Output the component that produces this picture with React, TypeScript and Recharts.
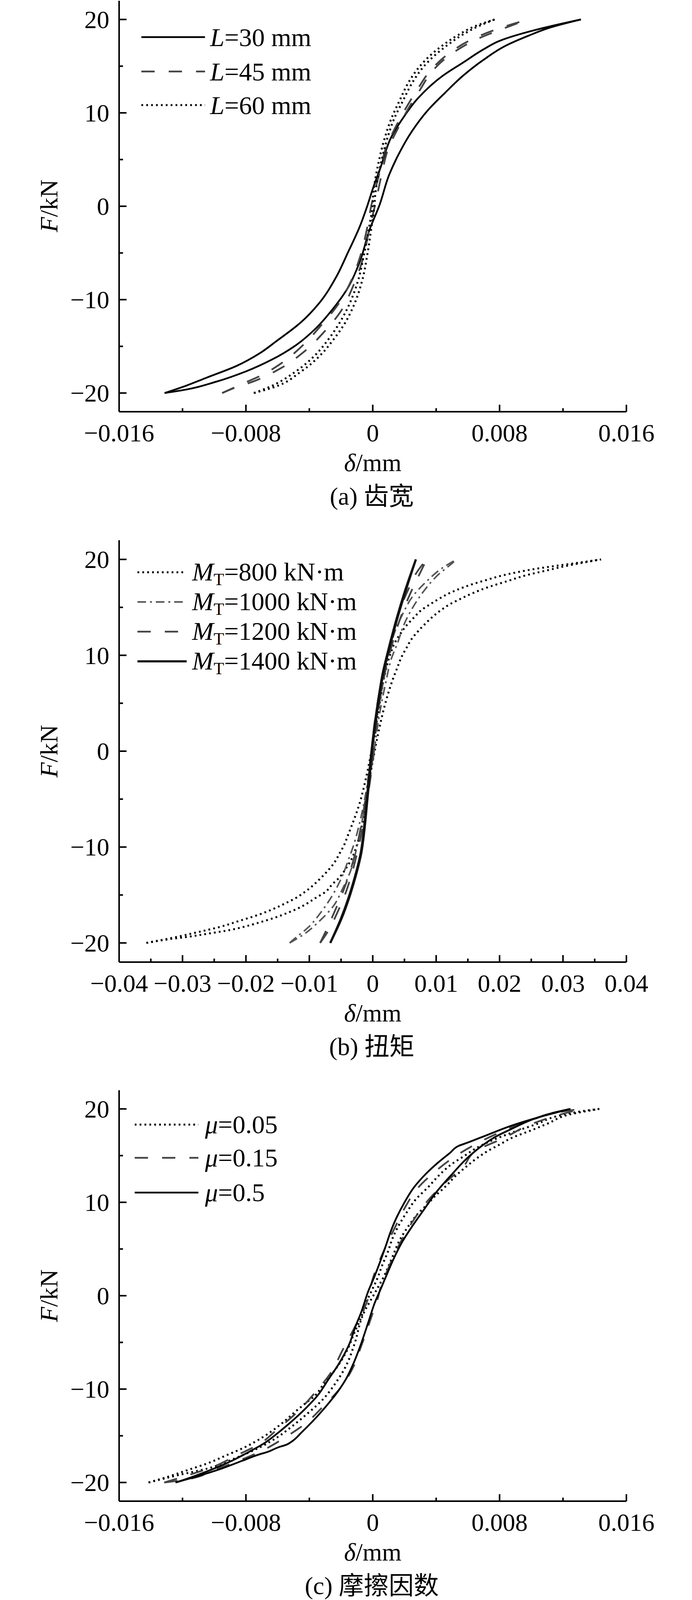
import React from 'react';
import { LineChart, Line, XAxis, YAxis } from 'recharts';

type Pt = [number, number]; // [delta (mm), F (kN)]

// ---------- (a) tooth width L ----------
const A_L30_LEFT: Pt[] = [[-0.01313,-20],[-0.01175,-19.2],[-0.01049,-18.36],[-0.00861,-17.11],[-0.0071,-15.71],[-0.00609,-14.46],[-0.00458,-12.5],[-0.00333,-10.27],[-0.00232,-7.62],[-0.00157,-4.97],[-0.00082,-2.18],[-0.00037,-0.09],[0.00003,2],[0.00048,4.09],[0.00118,7.44],[0.00189,9.4],[0.00288,11.62],[0.00444,14.0],[0.0057,15.39],[0.00698,16.79],[0.00797,17.69],[0.01024,18.87],[0.0118,19.5],[0.01313,20]];
const A_L30_RIGHT: Pt[] = [[-0.01313,-20],[-0.01175,-19.62],[-0.00986,-18.78],[-0.00798,-17.67],[-0.00635,-16.41],[-0.00484,-14.87],[-0.00358,-13.06],[-0.00257,-11.11],[-0.00157,-8.74],[-0.00082,-5.95],[-0.00019,-2.46],[0.00042,0.1],[0.00104,3.39],[0.00161,5.49],[0.00246,8.0],[0.00345,10.23],[0.00458,12.18],[0.00571,14.0],[0.00698,15.67],[0.0084,17.2],[0.00981,18.25],[0.01122,19.15],[0.01313,20]];
const A_L45_LEFT: Pt[] = [[-0.0095,-20],[-0.00848,-19.2],[-0.00685,-17.95],[-0.00572,-16.76],[-0.0044,-14.87],[-0.0032,-12.64],[-0.0022,-10.55],[-0.00138,-8.04],[-0.00082,-5.53],[-0.00037,-2.46],[-0.0001,0],[0.0004,3.39],[0.00082,6.18],[0.00138,8.28],[0.00195,10.09],[0.0028,12.46],[0.00365,14.55],[0.0048,16.36],[0.0062,17.83],[0.0079,19.0],[0.0098,20]];
const A_L45_RIGHT: Pt[] = [[-0.0095,-20],[-0.00898,-19.62],[-0.00735,-18.64],[-0.00584,-17.38],[-0.00433,-15.57],[-0.00308,-13.48],[-0.00207,-11.39],[-0.00125,-8.6],[-0.00063,-5.67],[-0.00025,-2.74],[0.00013,0],[0.00056,3.39],[0.00098,6.18],[0.00157,8.28],[0.00212,10.09],[0.00298,12.46],[0.0038,14.55],[0.005,16.36],[0.0065,17.83],[0.0082,19.0],[0.0098,20]];
const A_L60_LEFT: Pt[] = [[-0.0075,-20],[-0.0066,-19.41],[-0.00484,-17.67],[-0.00358,-15.85],[-0.00283,-14.32],[-0.0022,-12.78],[-0.00157,-10.83],[-0.00094,-8.04],[-0.00056,-5.25],[-0.00025,-2.46],[-0.00002,0],[0.00003,1.3],[0.00038,4.79],[0.00073,7.16],[0.00114,9.25],[0.0017,11.34],[0.00227,13.3],[0.00296,14.97],[0.00366,16.2],[0.0045,17.34],[0.00535,18.3],[0.00648,19.3],[0.00769,20]];
const A_L60_RIGHT: Pt[] = [[-0.0075,-20],[-0.0063,-19.41],[-0.0045,-17.67],[-0.00325,-15.85],[-0.0025,-14.32],[-0.00185,-12.78],[-0.00125,-10.83],[-0.00068,-8.04],[-0.00035,-5.25],[-0.0001,-2.46],[0.0001,0],[0.00016,1.3],[0.00054,4.79],[0.0009,7.16],[0.00132,9.25],[0.00192,11.34],[0.00252,13.3],[0.00322,14.97],[0.00394,16.2],[0.00478,17.34],[0.0056,18.3],[0.0067,19.3],[0.00769,20]];

// ---------- (b) torque M_T ----------
const B_800_LEFT: Pt[] = [[-0.0357,-20],[-0.0304,-19.3],[-0.0273,-18.83],[-0.0241,-18.33],[-0.0211,-17.71],[-0.018,-17.06],[-0.0158,-16.49],[-0.0136,-15.81],[-0.0122,-15.34],[-0.0108,-14.73],[-0.0095,-14.05],[-0.0083,-13.3],[-0.0072,-12.55],[-0.0061,-11.67],[-0.0053,-10.75],[-0.0045,-9.77],[-0.0039,-8.75],[-0.0033,-7.74],[-0.0021,-5.5],[-0.001,-2.6],[-0.0002,0],[0.0005,2.5],[0.0011,5],[0.0019,8],[0.0028,10.18],[0.0034,11.2],[0.0043,12.19],[0.0054,13.17],[0.0065,13.94],[0.0076,14.68],[0.0091,15.34],[0.0105,15.91],[0.0119,16.42],[0.0133,16.83],[0.0157,17.41],[0.0179,17.85],[0.0203,18.3],[0.0226,18.64],[0.0258,19.03],[0.029,19.34],[0.032,19.61],[0.036,20]];
const B_800_RIGHT: Pt[] = [[-0.0357,-20],[-0.032,-19.6],[-0.029,-19.35],[-0.0257,-19.0],[-0.0225,-18.65],[-0.0202,-18.3],[-0.0178,-17.85],[-0.0156,-17.4],[-0.0132,-16.8],[-0.0118,-16.4],[-0.0104,-15.9],[-0.009,-15.3],[-0.0075,-14.7],[-0.0064,-13.9],[-0.0053,-13.2],[-0.0042,-12.2],[-0.0033,-11.2],[-0.0027,-10.2],[-0.0018,-8],[-0.001,-5],[-0.0004,-2.5],[0.0003,0],[0.0011,2.6],[0.0022,5.5],[0.0033,7.74],[0.0039,8.75],[0.0045,9.77],[0.0053,10.75],[0.0061,11.67],[0.0072,12.55],[0.0083,13.3],[0.0095,14.05],[0.0108,14.73],[0.0122,15.34],[0.0136,15.81],[0.0158,16.49],[0.018,17.06],[0.0211,17.71],[0.0241,18.33],[0.0273,18.83],[0.0304,19.3],[0.036,20]];
const B_1000_LEFT: Pt[] = [[-0.0131,-20],[-0.0126,-19.7],[-0.0101,-18.33],[-0.0081,-16.74],[-0.0063,-14.97],[-0.0049,-13.17],[-0.0038,-11.26],[-0.003,-9.77],[-0.0019,-7],[-0.001,-4],[-0.0002,0],[0.0008,4],[0.0016,7],[0.0025,10],[0.0035,12.49],[0.0048,14.41],[0.0063,16.15],[0.0084,17.65],[0.0109,19.07],[0.0132,20]];
const B_1000_RIGHT: Pt[] = [[-0.0131,-20],[-0.0108,-19.07],[-0.0083,-17.65],[-0.0062,-16.15],[-0.0048,-14.41],[-0.0035,-12.49],[-0.0025,-10],[-0.0016,-7],[-0.0008,-4],[0.0002,0],[0.0011,4],[0.002,7],[0.003,9.77],[0.0039,11.26],[0.0049,13.17],[0.0063,14.97],[0.0081,16.74],[0.0102,18.33],[0.0127,19.7],[0.0132,20]];
const B_1200_LEFT: Pt[] = [[-0.0083,-20],[-0.0072,-18.5],[-0.0062,-17],[-0.0049,-15],[-0.0038,-13],[-0.0029,-11],[-0.0022,-9],[-0.0014,-6],[-0.0007,-3],[-0.0002,0],[0.0003,3],[0.001,6],[0.0019,9],[0.0026,11],[0.0034,13],[0.0044,15],[0.0057,17],[0.0068,18.5],[0.0085,20]];
const B_1200_RIGHT: Pt[] = [[-0.0083,-20],[-0.0068,-18.5],[-0.0057,-17],[-0.0044,-15],[-0.0034,-13],[-0.0026,-11],[-0.0019,-9],[-0.0011,-6],[-0.0004,-3],[0.0002,0],[0.0006,3],[0.0013,6],[0.0022,9],[0.003,11],[0.0039,13],[0.005,15],[0.0063,17],[0.0074,18.5],[0.0085,20]];
const B_1400_LEFT: Pt[] = [[-0.0067,-20],[-0.005,-17.43],[-0.0038,-15.25],[-0.0028,-13.06],[-0.0019,-10.61],[-0.0014,-8.15],[-0.001,-5.43],[-0.0006,-2.7],[-0.0002,0],[0.0003,2.76],[0.0009,5.49],[0.0016,8.22],[0.0025,10.67],[0.0037,13.67],[0.0052,16.95],[0.0068,20]];
const B_1400_RIGHT: Pt[] = [[-0.0067,-20],[-0.0049,-17.43],[-0.0037,-15.25],[-0.0027,-13.06],[-0.0018,-10.61],[-0.0013,-8.15],[-0.0009,-5.43],[-0.0005,-2.7],[-0.0001,0],[0.0004,2.76],[0.001,5.49],[0.0017,8.22],[0.0026,10.67],[0.0038,13.67],[0.0053,16.95],[0.0068,20]];

// ---------- (c) friction coefficient mu ----------
const C_005_LEFT: Pt[] = [[-0.01414,-20],[-0.01282,-19.33],[-0.01161,-18.63],[-0.01041,-17.94],[-0.00925,-17.1],[-0.00804,-16.2],[-0.00694,-15.15],[-0.0059,-13.9],[-0.0049,-12.44],[-0.00425,-11.53],[-0.00364,-10.69],[-0.00304,-9.3],[-0.00243,-8.05],[-0.00161,-5.82],[-0.00117,-4.01],[-0.00073,-2.34],[-0.0004,-0.66],[-0.00005,0.6],[0.00022,1.56],[0.00059,3.23],[0.00097,4.77],[0.00122,6.02],[0.0016,7.41],[0.0021,8.81],[0.00273,10.34],[0.00348,11.6],[0.00424,12.99],[0.00499,14.1],[0.00575,14.94],[0.0065,15.77],[0.0075,16.61],[0.00876,17.45],[0.0104,18.42],[0.01153,19.18],[0.01291,19.68],[0.01429,20]];
const C_005_RIGHT: Pt[] = [[-0.01414,-20],[-0.01222,-19.19],[-0.01041,-18.5],[-0.00864,-17.38],[-0.007,-16.13],[-0.00601,-15.15],[-0.00513,-14.04],[-0.00414,-12.65],[-0.00315,-11.11],[-0.00238,-9.44],[-0.00172,-7.63],[-0.00117,-5.26],[-0.00062,-2.06],[0.0002,0.5],[0.00072,2.12],[0.00122,4.07],[0.00172,6.02],[0.00235,7.69],[0.00286,8.81],[0.00336,9.64],[0.00399,10.76],[0.00461,11.73],[0.00524,12.85],[0.006,13.96],[0.00663,14.8],[0.00725,15.49],[0.00801,16.19],[0.00876,16.89],[0.01002,17.72],[0.01102,18.42],[0.01241,19.4],[0.01429,20]];
const C_015_LEFT: Pt[] = [[-0.01315,-20],[-0.01159,-19.19],[-0.01002,-18.29],[-0.00859,-17.1],[-0.00722,-15.95],[-0.00598,-14.25],[-0.00477,-12.47],[-0.0037,-10.49],[-0.00265,-8.26],[-0.00188,-5.75],[-0.00111,-3.28],[-0.00034,-0.53],[0.00003,1.98],[0.00075,5],[0.00147,7.55],[0.0021,9.64],[0.00279,11.43],[0.00392,13.27],[0.00527,15.0],[0.00673,16.44],[0.00826,17.66],[0.01,18.8],[0.0118,19.68],[0.01316,20]];
const C_015_RIGHT: Pt[] = [[-0.01315,-20],[-0.01172,-19.66],[-0.01007,-18.7],[-0.00848,-17.69],[-0.007,-16.61],[-0.00551,-15.15],[-0.00425,-13.69],[-0.00312,-11.84],[-0.00213,-10.07],[-0.00131,-7.91],[-0.00073,-5.4],[-0.00007,-2.2],[0.00035,-0.1],[0.00042,0.4],[0.00097,2.89],[0.00162,5.3],[0.00242,7.69],[0.00336,9.95],[0.00455,12.08],[0.00571,13.82],[0.0065,15.5],[0.00832,16.92],[0.00983,18.25],[0.01128,19.12],[0.01316,20]];
const C_05_LEFT: Pt[] = [[-0.01244,-20],[-0.0115,-19.47],[-0.01018,-18.63],[-0.00887,-17.66],[-0.00776,-16.68],[-0.00689,-15.85],[-0.00601,-14.73],[-0.00513,-13.48],[-0.00425,-12.09],[-0.00348,-10.69],[-0.00282,-9.02],[-0.00216,-7.35],[-0.0015,-5.26],[-0.00106,-3.17],[-0.00073,-1.78],[-0.00029,0.45],[0.00009,1.98],[0.00047,3.66],[0.00085,5.47],[0.0011,6.72],[0.00147,8.25],[0.00198,9.92],[0.0026,11.6],[0.00336,13.06],[0.00411,14.24],[0.00487,15.29],[0.00543,16.05],[0.006,16.4],[0.00725,17.23],[0.00876,18.21],[0.01065,19.19],[0.01247,20]];
const C_05_RIGHT: Pt[] = [[-0.01244,-20],[-0.0112,-19.4],[-0.00952,-18.5],[-0.00821,-17.66],[-0.0071,-16.96],[-0.00667,-16.75],[-0.00601,-16.27],[-0.0054,-15.92],[-0.00513,-15.64],[-0.00447,-14.6],[-0.00381,-13.48],[-0.00293,-11.81],[-0.00227,-10.42],[-0.00172,-9.02],[-0.00117,-7.07],[-0.00073,-5.12],[-0.00029,-2.9],[0.00015,-0.66],[0.00047,0.59],[0.00085,2.12],[0.00135,4.07],[0.00185,5.74],[0.00248,7.41],[0.00323,9.22],[0.00399,11.04],[0.00499,12.99],[0.006,14.8],[0.007,16.19],[0.00776,17.03],[0.00876,17.86],[0.01002,18.84],[0.01128,19.54],[0.01247,20]];

// ---------- ticks ----------
const F_TICKS = [-20, -15, -10, -5, 0, 5, 10, 15, 20];
const F_MAJOR = [-20, -10, 0, 10, 20];
const X_TICKS_AC = [-0.016, -0.012, -0.008, -0.004, 0, 0.004, 0.008, 0.012, 0.016];
const X_MAJOR_AC = [-0.016, -0.008, 0, 0.008, 0.016];
const X_TICKS_B = [-0.04, -0.035, -0.03, -0.025, -0.02, -0.015, -0.01, -0.005, 0, 0.005, 0.01, 0.015, 0.02, 0.025, 0.03, 0.035, 0.04];
const X_MAJOR_B = [-0.04, -0.03, -0.02, -0.01, 0, 0.01, 0.02, 0.03, 0.04];

const SERIF = "'Liberation Serif', 'Times New Roman', 'Noto Sans CJK SC', serif";
const FS = 64;

type StyleKey = 'solid' | 'dashed' | 'dotted' | 'dashdot' | 'solidBold';
const STYLES: Record<StyleKey, { stroke: string; width: number; dash?: string }> = {
  solid: { stroke: '#000', width: 4.5 },
  solidBold: { stroke: '#111', width: 5.5 },
  dashed: { stroke: '#444', width: 4.5, dash: '34 36' },
  dotted: { stroke: '#000', width: 5, dash: '4.5 8' },
  dashdot: { stroke: '#555', width: 4, dash: '22 10 5 10' },
};

type Series = { key: string; style: StyleKey; branches: Pt[][] };

const SERIES_A: Series[] = [
  { key: 'L30', style: 'solid', branches: [A_L30_LEFT, A_L30_RIGHT] },
  { key: 'L45', style: 'dashed', branches: [A_L45_LEFT, A_L45_RIGHT] },
  { key: 'L60', style: 'dotted', branches: [A_L60_LEFT, A_L60_RIGHT] },
];
const SERIES_B: Series[] = [
  { key: 'M800', style: 'dotted', branches: [B_800_LEFT, B_800_RIGHT] },
  { key: 'M1000', style: 'dashdot', branches: [B_1000_LEFT, B_1000_RIGHT] },
  { key: 'M1200', style: 'dashed', branches: [B_1200_LEFT, B_1200_RIGHT] },
  { key: 'M1400', style: 'solidBold', branches: [B_1400_LEFT, B_1400_RIGHT] },
];
const SERIES_C: Series[] = [
  { key: 'mu005', style: 'dotted', branches: [C_005_LEFT, C_005_RIGHT] },
  { key: 'mu015', style: 'dashed', branches: [C_015_LEFT, C_015_RIGHT] },
  { key: 'mu05', style: 'solid', branches: [C_05_LEFT, C_05_RIGHT] },
];

const toRows = (pts: Pt[]) => pts.map(([d, f]) => ({ d, f }));
const isIn = (arr: number[], v: number) => arr.some((m) => Math.abs(m - v) < 1e-9);
const minus = (s: string) => s.replace('-', '\u2212');
const fmt3 = (v: number) => (Math.abs(v) < 1e-12 ? '0' : minus(v.toFixed(3)));
const fmt2 = (v: number) => (Math.abs(v) < 1e-12 ? '0' : minus(v.toFixed(2)));
const fmtF = (v: number) => minus(String(v));

const makeXTick = (majors: number[], fmt: (v: number) => string) => (p: any) => {
  const { x, y, payload } = p;
  const v = payload.value as number;
  const major = isIn(majors, v);
  return (
    <g>
      <line x1={x} y1={y} x2={x} y2={y - (major ? 18 : 9)} stroke="#000" strokeWidth={4} />
      {major && (
        <text x={x} y={y + 76} textAnchor="middle" fontSize={FS} fontFamily={SERIF} fill="#000">
          {fmt(v)}
        </text>
      )}
    </g>
  );
};

const makeYTick = () => (p: any) => {
  const { x, y, payload } = p;
  const v = payload.value as number;
  const major = isIn(F_MAJOR, v);
  return (
    <g>
      <line x1={x} y1={y} x2={x + (major ? 19 : 10)} y2={y} stroke="#000" strokeWidth={4} />
      {major && (
        <text x={x - 25} y={y + 22} textAnchor="end" fontSize={FS} fontFamily={SERIF} fill="#000">
          {fmtF(v)}
        </text>
      )}
    </g>
  );
};

type PanelProps = {
  top: number;
  height: number;
  mTop: number;
  mBottom: number;
  xDomain: [number, number];
  xTicks: number[];
  xMajor: number[];
  fmt: (v: number) => string;
  series: Series[];
};

function Panel({ top, height, mTop, mBottom, xDomain, xTicks, xMajor, fmt, series }: PanelProps) {
  const axisLine = { stroke: '#000', strokeWidth: 4 };
  return (
    <div style={{ position: 'absolute', left: 0, top, width: 1772, height }}>
      <LineChart width={1772} height={height} margin={{ top: mTop, right: 168, bottom: mBottom, left: 105 }}>
        <XAxis
          dataKey="d"
          type="number"
          domain={xDomain}
          ticks={xTicks}
          interval={0}
          allowDataOverflow
          height={100}
          tickSize={0}
          tickMargin={0}
          tickLine={false}
          axisLine={axisLine}
          tick={makeXTick(xMajor, fmt)}
        />
        <YAxis
          type="number"
          domain={[-22, 22]}
          ticks={F_TICKS}
          interval={0}
          allowDataOverflow
          width={200}
          tickSize={0}
          tickMargin={0}
          tickLine={false}
          axisLine={axisLine}
          tick={makeYTick()}
        />
        <XAxis xAxisId="top" orientation="top" type="number" domain={xDomain} allowDataOverflow height={0} tick={false} tickLine={false} axisLine={axisLine} />
        <YAxis yAxisId="right" orientation="right" type="number" domain={[-22, 22]} allowDataOverflow width={0} tick={false} tickLine={false} axisLine={axisLine} />
        {series.flatMap((s) =>
          s.branches.map((b, j) => {
            const st = STYLES[s.style];
            return (
              <Line
                key={`${s.key}-${j}`}
                data={toRows(b)}
                dataKey="f"
                type="monotoneY"
                stroke={st.stroke}
                strokeWidth={st.width}
                strokeDasharray={st.dash}
                dot={false}
                activeDot={false}
                isAnimationActive={false}
                legendType="none"
              />
            );
          })
        )}
      </LineChart>
    </div>
  );
}

const LegendLine = ({ x1, x2, y, style }: { x1: number; x2: number; y: number; style: StyleKey }) => {
  const st = STYLES[style];
  return <line x1={x1} y1={y} x2={x2} y2={y} stroke={st.stroke} strokeWidth={st.width} strokeDasharray={st.dash} />;
};

const txt = { fontFamily: SERIF, fontSize: FS, fill: '#000' } as const;
const lg = { fontFamily: SERIF, fontSize: 66, fill: '#000' } as const;

function Overlay() {
  const PANELS = [
    { bottom: 1054, zero: 527 , cap: '(a) 齿宽' },
    { bottom: 2463, zero: 1923, cap: '(b) 扭矩' },
    { bottom: 3843, zero: 3317, cap: '(c) 摩擦因数' },
  ];
  const rowsA = [95, 183, 269];
  const rowsB = [1465, 1541, 1617, 1693];
  const rowsC = [2879, 2964, 3053];
  return (
    <svg width={1772} height={4103} style={{ position: 'absolute', left: 0, top: 0, pointerEvents: 'none' }}>
      {PANELS.map((p, i) => (
        <g key={i}>
          <text {...txt} x={954.5} y={p.bottom + 152} textAnchor="middle">
            <tspan fontStyle="italic">δ</tspan>/mm
          </text>
          <text {...txt} x={147} y={p.zero} textAnchor="middle" transform={`rotate(-90 147 ${p.zero})`}>
            <tspan fontStyle="italic">F</tspan>/kN
          </text>
          <text {...txt} x={952} y={p.bottom + 238} textAnchor="middle">
            {p.cap}
          </text>
        </g>
      ))}

      {/* legend (a) */}
      <LegendLine x1={362} x2={525} y={rowsA[0]} style="solid" />
      <LegendLine x1={362} x2={525} y={rowsA[1]} style="dashed" />
      <LegendLine x1={362} x2={525} y={rowsA[2]} style="dotted" />
      {['30', '45', '60'].map((v, i) => (
        <text key={v} {...lg} x={538} y={rowsA[i] + 23}>
          <tspan fontStyle="italic">L</tspan>={v} mm
        </text>
      ))}

      {/* legend (b) */}
      <LegendLine x1={352} x2={472} y={rowsB[0]} style="dotted" />
      <LegendLine x1={352} x2={472} y={rowsB[1]} style="dashdot" />
      <LegendLine x1={352} x2={472} y={rowsB[2]} style="dashed" />
      <LegendLine x1={352} x2={478} y={rowsB[3]} style="solidBold" />
      {['800', '1000', '1200', '1400'].map((v, i) => (
        <text key={v} {...lg} x={492} y={rowsB[i] + 21}>
          <tspan fontStyle="italic">M</tspan>
          <tspan fontSize={44} dy={12}>T</tspan>
          <tspan dy={-12}>={v} kN·m</tspan>
        </text>
      ))}

      {/* legend (c) */}
      <LegendLine x1={345} x2={508} y={rowsC[0]} style="dotted" />
      <LegendLine x1={345} x2={508} y={rowsC[1]} style="dashed" />
      <LegendLine x1={345} x2={508} y={rowsC[2]} style="solid" />
      {['0.05', '0.15', '0.5'].map((v, i) => (
        <text key={v} {...lg} x={525} y={rowsC[i] + 22}>
          <tspan fontStyle="italic">μ</tspan>={v}
        </text>
      ))}
    </svg>
  );
}

export default function App() {
  return (
    <div style={{ position: 'absolute', left: 0, top: 0, width: 1772, height: 4103, background: '#fff', overflow: 'hidden' }}>
      <Panel top={0} height={1300} mTop={2} mBottom={146} xDomain={[-0.016, 0.016]} xTicks={X_TICKS_AC} xMajor={X_MAJOR_AC} fmt={fmt3} series={SERIES_A} />
      <Panel top={1300} height={1400} mTop={83} mBottom={137} xDomain={[-0.04, 0.04]} xTicks={X_TICKS_B} xMajor={X_MAJOR_B} fmt={fmt2} series={SERIES_B} />
      <Panel top={2700} height={1403} mTop={91} mBottom={160} xDomain={[-0.016, 0.016]} xTicks={X_TICKS_AC} xMajor={X_MAJOR_AC} fmt={fmt3} series={SERIES_C} />
      <Overlay />
    </div>
  );
}
